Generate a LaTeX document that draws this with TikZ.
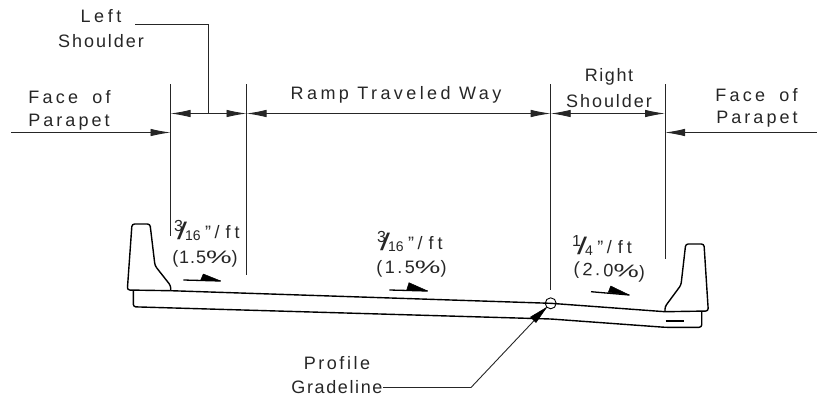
\documentclass[tikz,border=0pt]{standalone}
\usepackage{fontspec}
\usepackage{graphicx}
\setmainfont{Liberation Sans}
\usetikzlibrary{arrows.meta}
\newcommand{\ls}[1]{\addfontfeature{LetterSpace=#1}}
\newcommand{\pct}{\scalebox{1.6}[1]{\%}}
\newcommand{\slopefrac}[3]{\smash{\raisebox{7pt}{\fontsize{16}{16}\selectfont #1}}\kern-#3\smash{\raisebox{-1.5pt}{\scalebox{1.5}[1]{\fontsize{24}{24}\selectfont /}}}\kern-2pt\smash{\raisebox{-2pt}{\fontsize{14}{14}\selectfont #2}}\kern4.5pt{\fontsize{18}{18}\selectfont\symbol{34}}\kern3.5pt/\kern6pt f\kern4pt t}
\tikzset{
  x=1pt,y=-1pt,
  lbl/.style={inner sep=0pt,font=\fontsize{18}{18}\selectfont,text=black!85},
  baselbl/.style={inner sep=0pt,anchor=base,font=\fontsize{18}{18}\selectfont,text=black!85},
  fraclbl/.style={inner sep=0pt,anchor=base west,font=\fontsize{18}{18}\selectfont,text=black!85},
  thin line/.style={line width=0.9pt,draw=black!85},
  road/.style={line width=1.4pt,draw=black,line join=round},
  tip/.style={-{Latex[length=20pt,width=7.5pt]}},
  bothtip/.style={{Latex[length=20pt,width=7.5pt]}-{Latex[length=20pt,width=7.5pt]}},
  wedge/.style={fill=black,draw=black,line width=0.5pt,line join=round},
  flow/.style={line width=1.3pt,draw=black},
}
\begin{document}
\begin{tikzpicture}
\useasboundingbox (0,0) rectangle (817,400);
% extension lines
\coordinate (v1t) at (170.5,84); \coordinate (v1b) at (170.5,236);
\coordinate (v2t) at (246.5,84); \coordinate (v2b) at (246.5,275);
\coordinate (v3t) at (550.7,84); \coordinate (v3b) at (550.7,290);
\coordinate (v4t) at (665,84);   \coordinate (v4b) at (665,259);
\draw[thin line] (v1t)--(v1b);
\draw[thin line] (v2t)--(v2b);
\draw[thin line] (v3t)--(v3b);
\draw[thin line] (v4t)--(v4b);
% dimensions
\coordinate (d1) at (170.5,113.5); \coordinate (d2) at (246.5,113.5);
\coordinate (d3) at (550.7,113.5); \coordinate (d4) at (665,113.5);
\draw[thin line,bothtip] (d1)--(d2);
\draw[thin line,bothtip] (d2)--(d3);
\draw[thin line,bothtip] (d3)--(d4);
% face of parapet leaders
\coordinate (fl0) at (11,132.5); \coordinate (fl1) at (170.5,132.5);
\coordinate (fr0) at (817,132.5); \coordinate (fr1) at (665,132.5);
\draw[thin line,tip] (fl0)--(fl1);
\draw[thin line,tip] (fr0)--(fr1);
% left shoulder leader
\coordinate (ls0) at (135,24.5); \coordinate (ls1) at (208.5,24.5); \coordinate (ls2) at (208.5,113.5);
\draw[thin line] (ls0)--(ls1)--(ls2);
% left barrier
\draw[road,rounded corners=2.5pt] (170.7,290.7)--(170.7,285.7)--(155,265.7)--(150,224)--(132,224)--(127.3,290)--(170.7,290.7);
% right barrier
\draw[road,rounded corners=2.5pt] (665,311.7)--(665,306.7)--(681,285)--(685.7,244)--(704,244)--(708.3,311)--(665,311.7);
% deck
\draw[road] (170.7,290.7)--(550.7,303.3)--(665,311.7);
\draw[road,rounded corners=2.5pt] (133.3,290.2)--(133.3,306.8)--(551,319)--(665,327.3)--(701.7,327.3)--(701.7,311.5);
\draw[road,line width=1.1pt] (665.7,321)--(684,321);
% grade point and leader
\node[circle,draw=black,line width=0.9pt,minimum size=11pt,inner sep=0pt] (pg) at (550.7,303.3) {};
\coordinate (pl0) at (383,387.5); \coordinate (pl1) at (471,387.5);
\draw[thin line] (pl0)--(pl1)--(pg.225);
\draw[wedge] (pg.225)--(536,322.5)--(530.5,317)--cycle;
% slope arrows
\draw[flow] (183.3,280)--(220.7,281);
\draw[wedge] (200.7,280)--(203.3,274)--(220.7,281)--cycle;
\draw[flow] (389.3,290)--(427.7,291);
\draw[wedge] (406.7,290)--(409,282.7)--(427.7,291)--cycle;
\draw[flow] (591,291.7)--(629.3,295);
\draw[wedge] (608.3,292.3)--(610.7,286)--(629.3,295)--cycle;
% labels
\node[lbl] (t1) at (101,16.5) {\ls{20}Left};
\node[lbl] (t2) at (101,41) {\ls{11}Shoulder};
\node[lbl] (t3) at (69.5,97) {\ls{18}Face\kern6pt{} of};
\node[lbl] (t4) at (69,122) {\ls{17}Parapet};
\node[lbl] (t5) at (396,95) {\ls{19}Ramp Traveled Way};
\node[lbl] (t6) at (609,77) {\ls{9}Right};
\node[lbl] (t7) at (609,101) {\ls{11}Shoulder};
\node[lbl] (t8) at (756.5,95) {\ls{18}Face\kern6pt{} of};
\node[lbl] (t9) at (757,119) {\ls{17}Parapet};
\node[lbl] (t10) at (337,363) {\ls{14}Profile};
\node[lbl] (t11) at (337,387) {\ls{9}Gradeline};
\node[fraclbl] (s1) at (174,238) {\slopefrac{3}{16}{6pt}};
\node[baselbl] (s2) at (205,263) {\ls{5}(1.5\pct)};
\node[fraclbl] (s3) at (377,249) {\slopefrac{3}{16}{6pt}};
\node[baselbl] (s4) at (411.5,273) {\ls{14}(1.5\pct)};
\node[fraclbl] (s5) at (572,253) {\slopefrac{1}{4}{4pt}};
\node[baselbl,rotate=-3] (s6) at (609,276.5) {\ls{16}(2.0\pct)};
\end{tikzpicture}
\end{document}
